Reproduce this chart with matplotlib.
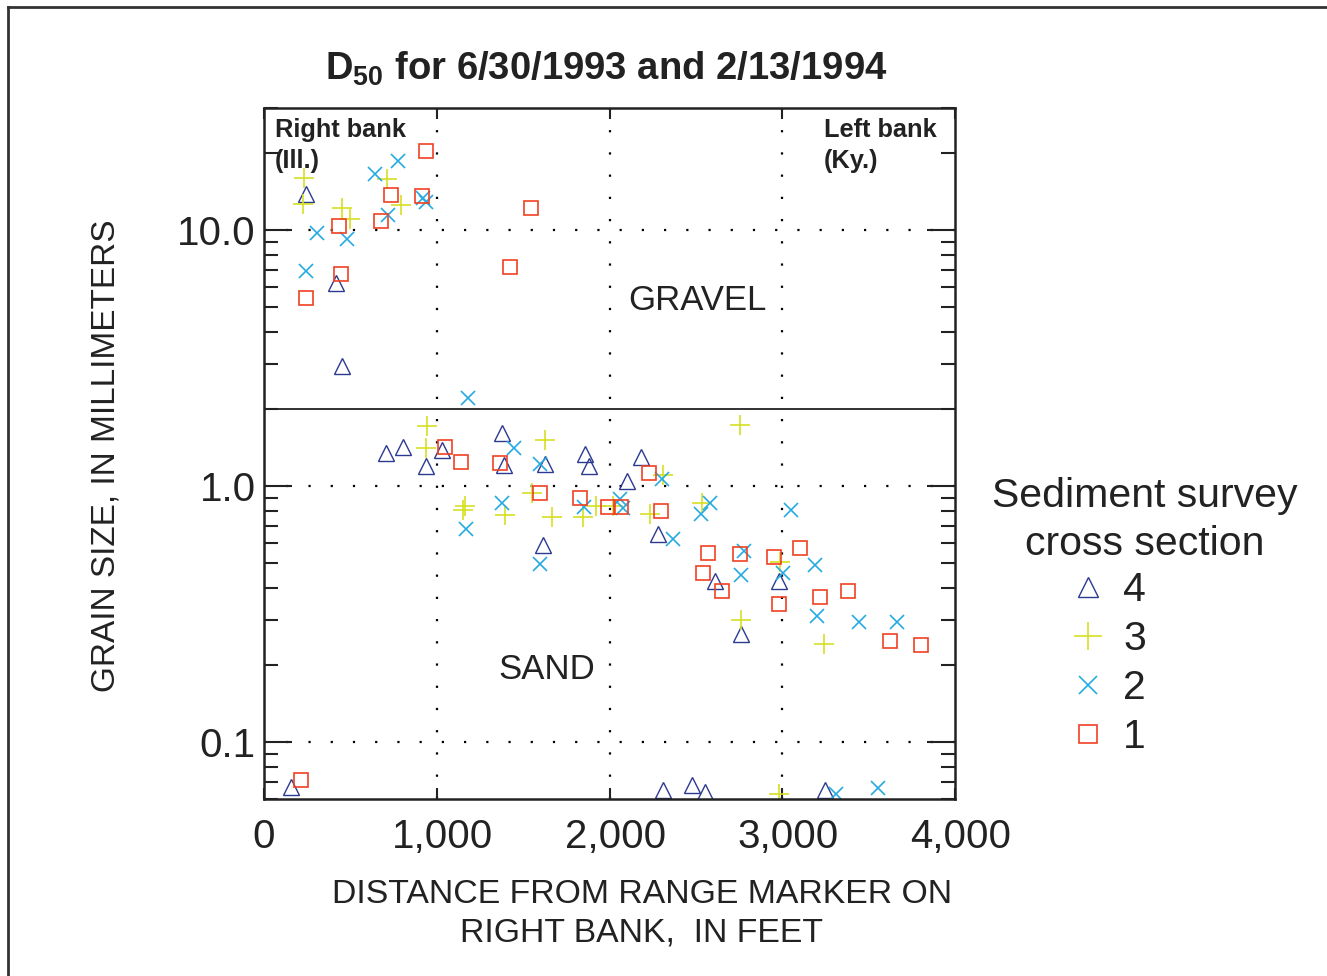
import matplotlib
matplotlib.use("Agg")
import matplotlib.pyplot as plt
from matplotlib.lines import Line2D
from matplotlib.transforms import ScaledTranslation
from matplotlib.ticker import FixedLocator, FixedFormatter, LogLocator, NullFormatter

plt.rcParams['font.family'] = ['Liberation Sans', 'DejaVu Sans']
plt.rcParams['mathtext.fontset'] = 'custom'
plt.rcParams['mathtext.rm'] = 'Liberation Sans:bold'
plt.rcParams['mathtext.bf'] = 'Liberation Sans:bold'

# distance (ft) and D50 (mm) for each sediment survey cross section
x4 = [245, 414, 454, 706, 807, 936, 1029, 1377, 1387, 1615, 1629, 1857, 1880, 155,
      2099, 2180, 2279, 2612, 2983, 2761, 2312, 2480, 2550, 3250]
y4 = [13.9, 6.2, 2.96, 1.35, 1.42, 1.20, 1.38, 1.61, 1.21, 0.59, 1.22, 1.34, 1.20, 0.067,
      1.05, 1.30, 0.65, 0.425, 0.425, 0.265, 0.065, 0.068, 0.064, 0.065]

x3 = [234, 224, 454, 497, 710, 793, 946, 936, 1151, 1165, 1395, 1551, 1629, 1667, 1847,
      1919, 2021, 2312, 2234, 2538, 2757, 2989, 2761, 3240, 2983]
y3 = [16.0, 12.6, 12.2, 11.1, 15.8, 12.5, 1.72, 1.41, 0.81, 0.84, 0.77, 0.94, 1.52, 0.755, 0.755,
      0.835, 0.835, 1.11, 0.78, 0.86, 1.73, 0.506, 0.30, 0.241, 0.063]

x2 = [242, 304, 478, 642, 778, 716, 923, 940, 1181, 1449, 1596, 1377, 1168, 1596, 1851, 2060,
      2076, 2302, 2530, 2579, 2370, 2780, 2763, 3002, 3053, 3192, 3202, 3444, 3662, 3314, 3554]
y2 = [6.92, 9.76, 9.25, 16.5, 18.6, 11.5, 13.4, 12.9, 2.21, 1.41, 1.22, 0.856, 0.683, 0.496, 0.83,
      0.89, 0.82, 1.065, 0.78, 0.856, 0.62, 0.56, 0.45, 0.458, 0.81, 0.49, 0.31, 0.295, 0.295,
      0.063, 0.066]

x1 = [936, 735, 917, 675, 435, 1548, 1426, 445, 245, 1049, 1139, 1368, 1596, 1828, 1992, 2064,
      217, 2230, 2300, 2573, 2544, 2651, 2753, 2950, 3101, 2983, 3221, 3382, 3623, 3801]
y1 = [20.4, 13.7, 13.6, 10.9, 10.4, 12.2, 7.19, 6.75, 5.44, 1.42, 1.24, 1.23, 0.94, 0.90, 0.83,
      0.83, 0.0713, 1.13, 0.80, 0.55, 0.46, 0.39, 0.545, 0.53, 0.574, 0.348, 0.369, 0.39, 0.248,
      0.239]

x_ticks = [0, 1000, 2000, 3000, 4000]
x_ticklabels = ['0', '1,000', '2,000', '3,000', '4,000']
y_ticks = [0.1, 1.0, 10.0]
y_ticklabels = ['0.1', '1.0', '10.0']
sand_gravel = 2.0

W, H = 1327, 976
fig = plt.figure(figsize=(W / 100, H / 100), dpi=100)
ax = fig.add_axes([264 / W, 1 - 799 / H, 691 / W, 691 / H])

ax.plot(x4, y4, ls='none', marker='^', ms=11, mfc='none', mec='#2b3990', mew=1.0, label='4')
ax.plot(x3, y3, ls='none', marker='+', ms=15, mec='#d7df23', mew=1.2, label='3')
ax.plot(x2, y2, ls='none', marker='x', ms=10, mec='#27aae1', mew=1.2, label='2')
ax.plot(x1, y1, ls='none', marker='s', ms=10, mfc='none', mec='#ef4123', mew=1.2, label='1')

ax.set_yscale('log')
ax.set_xlim(0, 4000)
ax.set_ylim(0.06, 30)

# dotted grid and sand/gravel boundary
for xv in x_ticks[1:-1]:
    ax.axvline(xv, color='black', lw=1.6, ls=(0, (1, 9)), zorder=0)
for yv in y_ticks:
    ax.axhline(yv, color='black', lw=1.6, ls=(0, (1, 9)), zorder=0)
ax.axhline(sand_gravel, color='#222222', lw=1.3)

ax.xaxis.set_major_locator(FixedLocator(x_ticks))
ax.xaxis.set_major_formatter(FixedFormatter(x_ticklabels))
ax.yaxis.set_major_locator(FixedLocator(y_ticks))
ax.yaxis.set_major_formatter(FixedFormatter(y_ticklabels))
ax.yaxis.set_minor_locator(LogLocator(base=10, subs=range(2, 10)))
ax.yaxis.set_minor_formatter(NullFormatter())
ax.tick_params(axis='both', which='both', direction='in', color='#222222')
ax.tick_params(axis='both', which='major', labelsize=29, labelcolor='#222222')
ax.tick_params(axis='y', which='major', length=20, width=1.5, left=True, right=True, pad=6)
ax.tick_params(axis='y', which='minor', length=10, width=1.5, left=True, right=True)
ax.tick_params(axis='x', which='major', length=8, width=1.5, top=True, bottom=True, pad=13.5)
for s in ax.spines.values():
    s.set_linewidth(1.8)
    s.set_color('#222222')

# the comma-numbers sit a little right of their ticks in the original
fig.canvas.draw()
for lab in ax.get_xticklabels()[1:]:
    lab.set_transform(lab.get_transform() + ScaledTranslation(6 / 100, 0, fig.dpi_scale_trans))

fig.text(642 / W, 1 - 914 / H, 'DISTANCE FROM RANGE MARKER ON\nRIGHT BANK,  IN FEET',
         fontsize=24.3, ha='center', va='center', multialignment='center',
         color='#222222', linespacing=1.3)
fig.text(106 / W, 1 - 456 / H, 'GRAIN SIZE, IN MILLIMETERS', fontsize=24, rotation=90,
         ha='center', va='center', color='#222222')
fig.text(606 / W, 1 - 69 / H, r'D$_{50}$ for 6/30/1993 and 2/13/1994', fontsize=27.5,
         fontweight='bold', ha='center', va='center', color='#222222')

ax.text(0.016, 0.985, 'Right bank\n(Ill.)', transform=ax.transAxes, fontsize=18.3,
        fontweight='bold', va='top', ha='left', color='#222222', linespacing=1.35)
ax.text(0.810, 0.985, 'Left bank\n(Ky.)', transform=ax.transAxes, fontsize=18.3,
        fontweight='bold', va='top', ha='left', color='#222222', linespacing=1.35)
ax.text(0.627, 0.721, 'GRAVEL', transform=ax.transAxes, fontsize=25, ha='center',
        va='center', color='#222222')
ax.text(0.409, 0.187, 'SAND', transform=ax.transAxes, fontsize=25, ha='center',
        va='center', color='#222222')

# legend: centred title and entries below it
fig.text(1145 / W, 1 - 520 / H, 'Sediment survey\ncross section', fontsize=29.5,
         ha='center', va='center', multialignment='center', color='#222222',
         linespacing=1.32)
leg = ax.legend(fontsize=29.5, frameon=False, loc='upper left',
                bbox_to_anchor=(1068 / W, 1 - 571 / H), bbox_transform=fig.transFigure,
                handlelength=1.0, handletextpad=0.35, labelspacing=0.27, borderpad=0,
                borderaxespad=0, markerscale=1.35)
for t in leg.get_texts():
    t.set_color('#222222')

# outer frame (left and top edges)
fig.add_artist(Line2D([8 / W, 8 / W], [0, 1 - 7 / H], transform=fig.transFigure,
                      color='#333333', lw=2))
fig.add_artist(Line2D([8 / W, 1], [1 - 7 / H, 1 - 7 / H], transform=fig.transFigure,
                      color='#333333', lw=2))

fig.savefig('out.png', dpi=100)
